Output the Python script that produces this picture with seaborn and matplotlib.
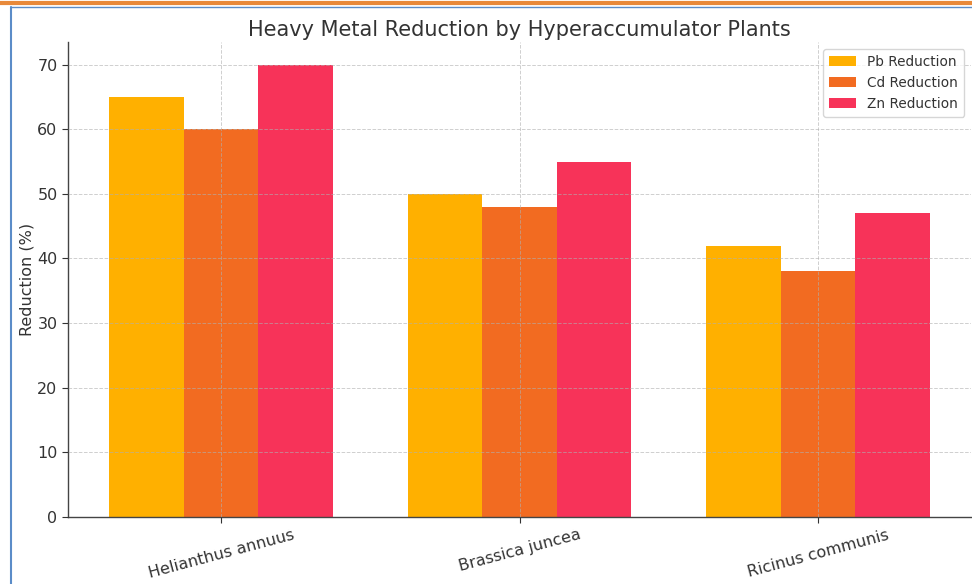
import pandas as pd
import matplotlib
matplotlib.use("Agg")
import matplotlib.pyplot as plt
from matplotlib.lines import Line2D
import seaborn as sns

# Data
plants = ["Helianthus annuus", "Brassica juncea", "Ricinus communis"]
pb_reduction = [65, 50, 42]
cd_reduction = [60, 48, 38]
zn_reduction = [70, 55, 47]
series_names = ["Pb Reduction", "Cd Reduction", "Zn Reduction"]
colors = ["#FFB000", "#F26B21", "#F73359"]

df = pd.DataFrame({
    "Plant": plants * 3,
    "Metal": [series_names[0]] * 3 + [series_names[1]] * 3 + [series_names[2]] * 3,
    "Reduction": pb_reduction + cd_reduction + zn_reduction,
})

sns.set_style("white")
plt.rcParams["font.family"] = ["DejaVu Sans"]

fig = plt.figure(figsize=(9.72, 5.84), dpi=100)
ax = fig.add_axes([0.070, 0.115, 0.929, 0.813])

sns.barplot(data=df, x="Plant", y="Reduction", hue="Metal", palette=colors,
            width=0.75, saturation=1, linewidth=0, ax=ax, zorder=1)

ax.set_xlim(-0.5125, 2.5125)
ax.set_ylim(0, 73.5)
ax.set_yticks(range(0, 71, 10))
ax.set_axisbelow(False)
ax.grid(True, linestyle="--", color="#b0b0b0", linewidth=0.7, alpha=0.6, zorder=3)

ax.set_title("Heavy Metal Reduction by Hyperaccumulator Plants", fontsize=15,
             color="#333333", pad=4)
ax.set_xlabel("")
ax.set_ylabel("Reduction (%)", fontsize=11.5, color="#333333", labelpad=2)
ax.tick_params(axis="both", labelsize=11.5, colors="#333333", length=4, left=True, bottom=True)
plt.setp(ax.get_xticklabels(), rotation=15)

for side in ["top", "right"]:
    ax.spines[side].set_visible(False)
for side in ["left", "bottom"]:
    ax.spines[side].set_color("#444444")
    ax.spines[side].set_linewidth(1)

leg = ax.legend(loc="upper right", fontsize=9.8, frameon=True, title=None,
                handlelength=2.0, borderpad=0.45, fancybox=True)
leg.get_frame().set_edgecolor("#cccccc")
for t in leg.get_texts():
    t.set_color("#333333")

# screenshot frame lines
fig.add_artist(Line2D([0, 1], [0.995, 0.995], transform=fig.transFigure,
                      color="#E8893A", linewidth=3))
fig.add_artist(Line2D([0.0115, 0.0115], [0, 0.988], transform=fig.transFigure,
                      color="#5B8CC8", linewidth=1.5))
fig.add_artist(Line2D([0.0115, 1], [0.988, 0.988], transform=fig.transFigure,
                      color="#5B8CC8", linewidth=1.0))

fig.savefig("out.png", dpi=100)
